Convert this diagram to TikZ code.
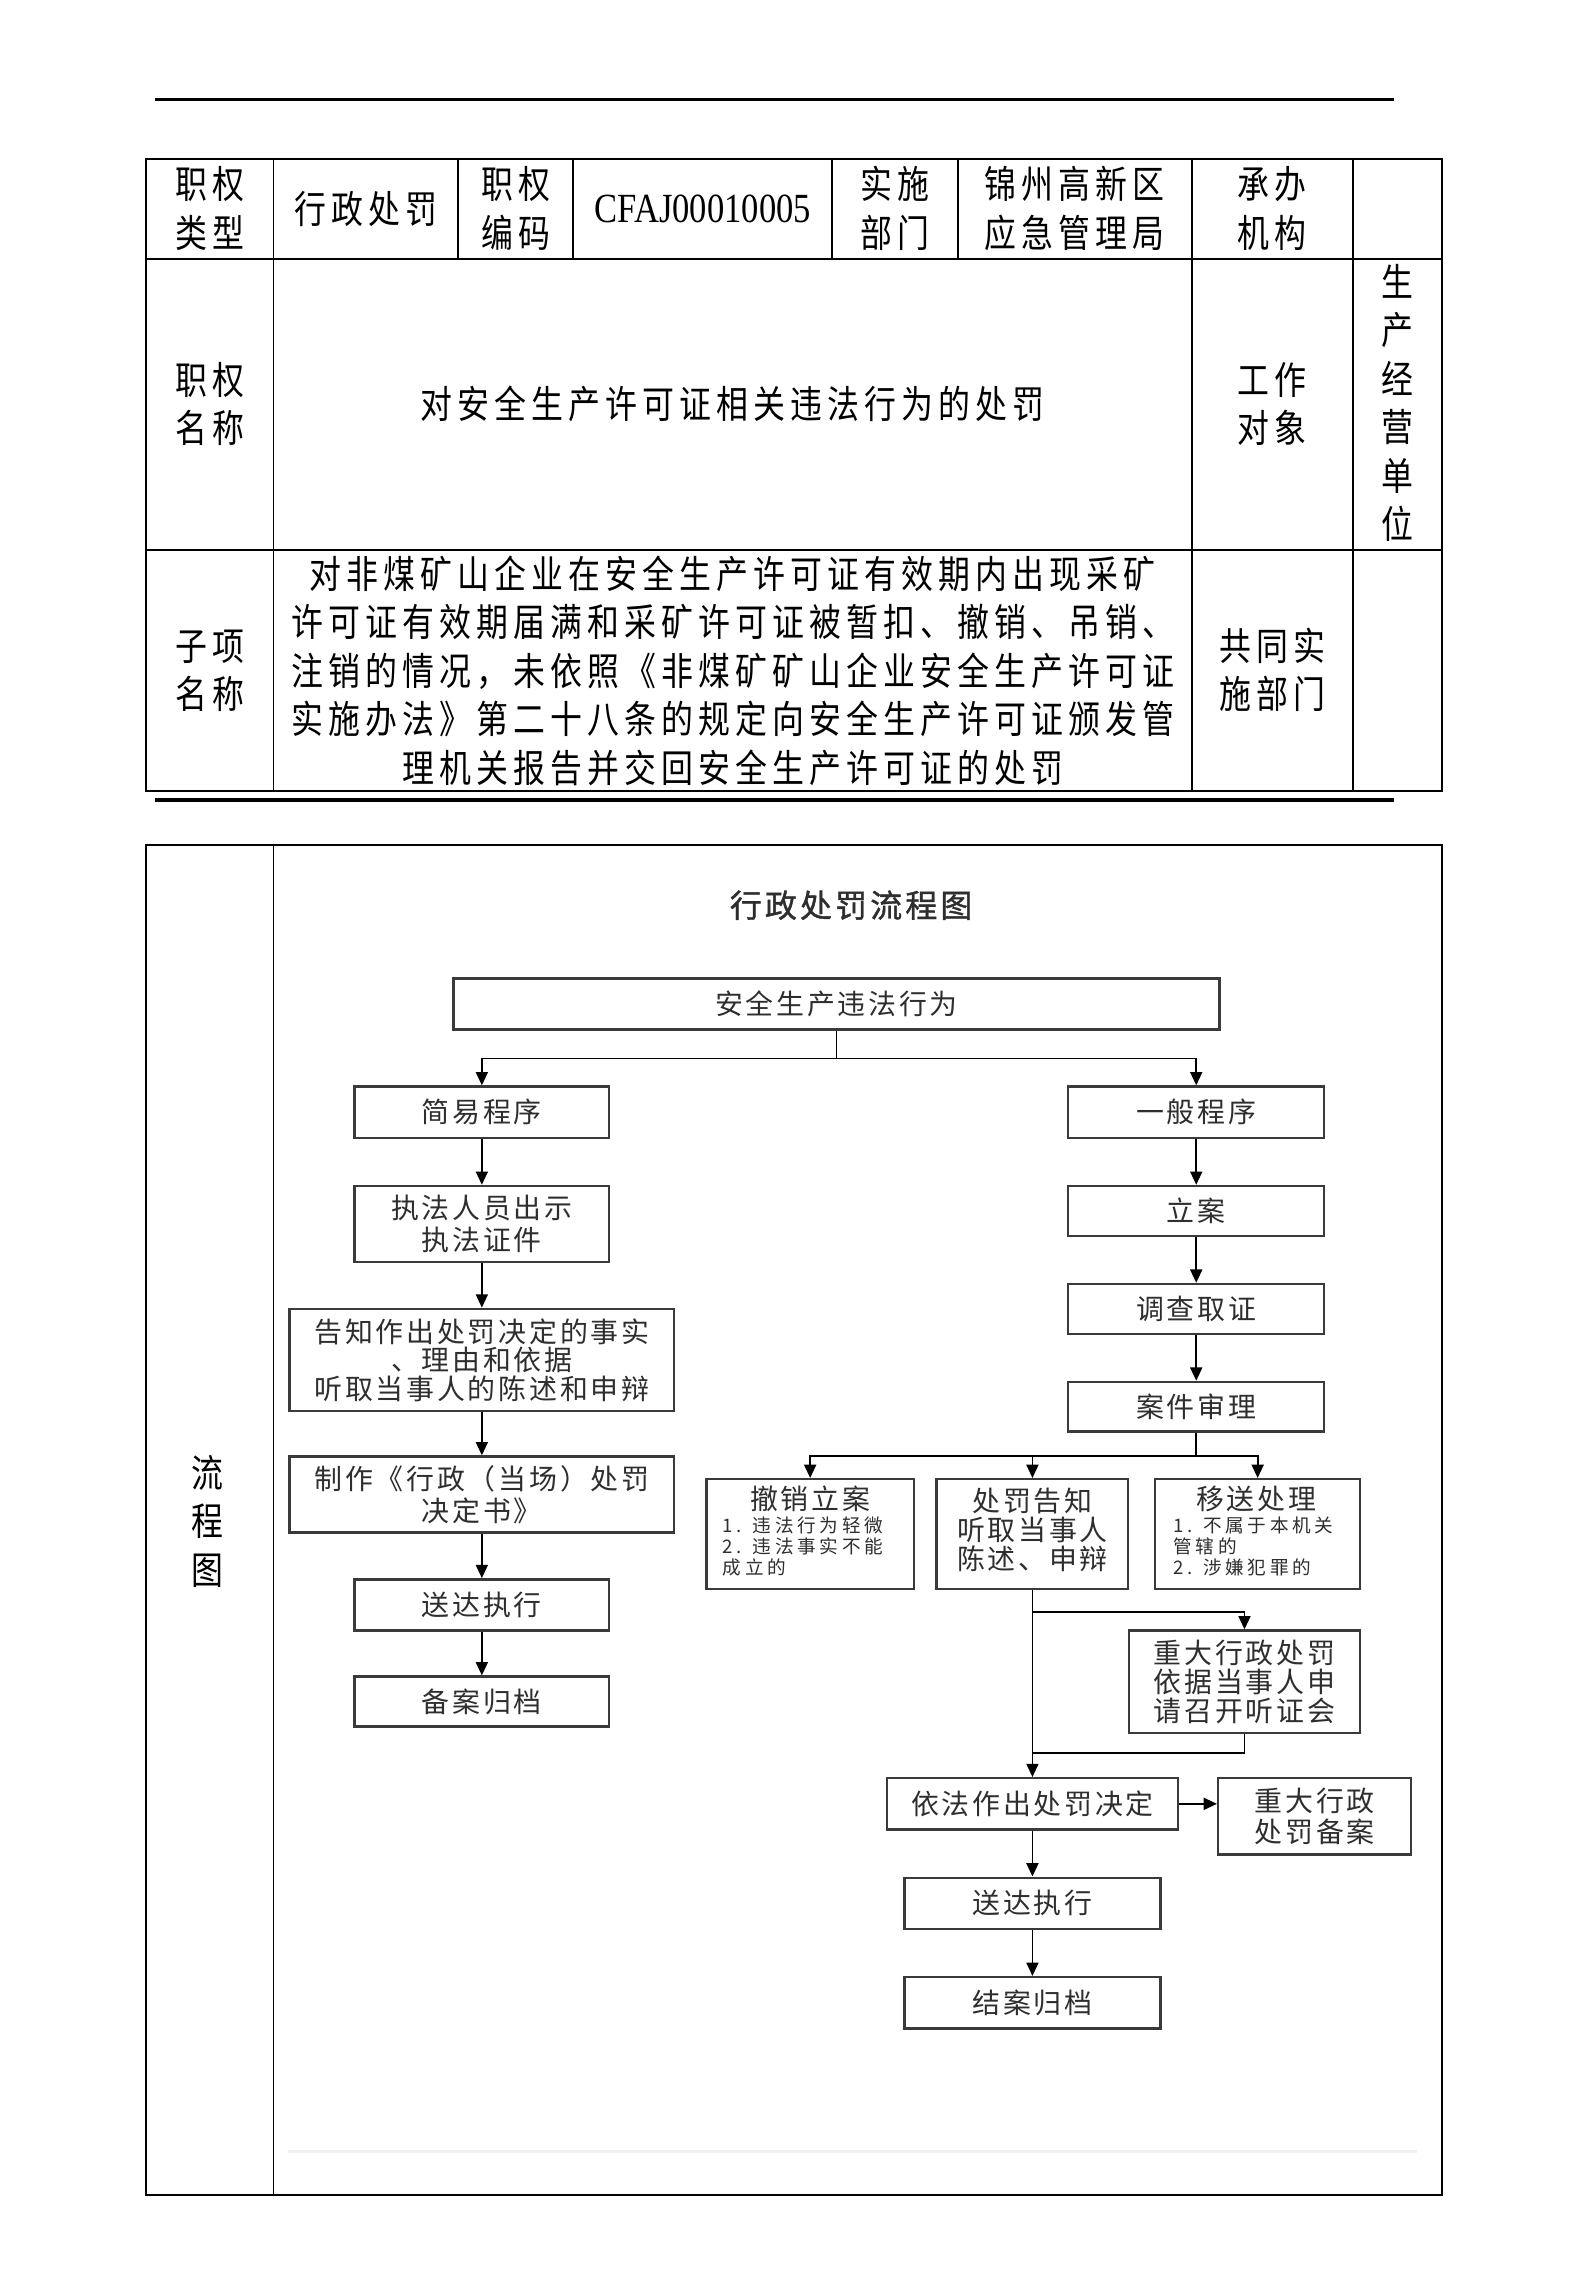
\documentclass[tikz,border=0pt]{standalone}
\usepackage{fontspec}
\usepackage{graphicx}
\setmainfont{Noto Sans CJK SC}
\newfontfamily\tabfont[LetterSpace=16]{Noto Sans CJK SC}
\newfontfamily\boxfont[LetterSpace=10]{Noto Sans CJK SC}
\newfontfamily\notefont[LetterSpace=20]{Noto Sans CJK SC}
\newfontfamily\titlefont[LetterSpace=10,FakeBold=1.2]{Noto Sans CJK SC}
\newfontfamily\codefont{Liberation Serif}
\usetikzlibrary{arrows.meta}
\usetikzlibrary{positioning}
\definecolor{linegray}{HTML}{3A3A3A}
\definecolor{textgray}{HTML}{2E2E2E}
\def\pxu{0.55pt}
\newcommand{\tcell}[1]{\scalebox{1}[1.2]{\tabfont\fontsize{12}{15.2}\selectfont\begin{tabular}{@{}c@{}}#1\end{tabular}}}
\tikzstyle{box} = [rectangle, draw=linegray, line width=0.9pt, inner sep=0pt, text=textgray, align=center, font=\boxfont\fontsize{10.5}{11}\selectfont]
\tikzstyle{boxtext} = [inner sep=0pt, align=center, text=textgray, font=\boxfont\fontsize{10.5}{11}\selectfont]
\tikzstyle{note} = [inner sep=0pt, anchor=west, align=left, text=textgray, font=\notefont\fontsize{7}{8}\selectfont]
\tikzstyle{line} = [draw=black, line width=0.7pt]
\tikzstyle{arr} = [line, -{Triangle[length=5pt,width=4.5pt]}]

\begin{document}
\begin{tikzpicture}[x=0.55pt,y=-0.55pt]
\fill[white] (0,0) rectangle (1085,1568);
\useasboundingbox (0,0) rectangle (1085,1568);

% upper table
\draw[line width=1.4pt] (106,68) -- (953,68);
\draw[line width=0.8pt] (100,109) rectangle (986,541);
\draw[line width=0.6pt] (100,177) -- (986,177) (100,376) -- (986,376);
\foreach \x in {187,815,925} \draw[line width=0.6pt] (\x,109) -- (\x,541);
\foreach \x in {313,392,569,655} \draw[line width=0.6pt] (\x,109) -- (\x,177);
\draw[line width=1.4pt] (106,547) -- (953,547);

\node (lbltype) at (143.5,146) {\tcell{职权\\类型}};
\node (valtype) at (250,146) {\tcell{行政处罚}};
\node (lblcode) at (352.5,146) {\tcell{职权\\编码}};
\node (valcode) at (480.5,143) {\scalebox{1}[1.2]{\codefont\fontsize{13}{15}\selectfont CFAJ00010005}};
\node (lbldept) at (612,146) {\tcell{实施\\部门}};
\node (valdept) at (735,146) {\tcell{锦州高新区\\应急管理局}};
\node (lblorg) at (870,146) {\tcell{承办\\机构}};

\node (lblname) at (143.5,279.5) {\tcell{职权\\名称}};
\node (valname) at (501,279.5) {\tcell{对安全生产许可证相关违法行为的处罚}};
\node (lblobj) at (870,279.5) {\tcell{工作\\对象}};
\node (valobj) at (955.5,279) {\tcell{生\\产\\经\\营\\单\\位}};

\node (lblsub) at (143.5,461.5) {\tcell{子项\\名称}};
\node (valsub) at (501,462) {\tcell{对非煤矿山企业在安全生产许可证有效期内出现采矿\\许可证有效期届满和采矿许可证被暂扣、撤销、吊销、\\注销的情况，未依照《非煤矿矿山企业安全生产许可证\\实施办法》第二十八条的规定向安全生产许可证颁发管\\理机关报告并交回安全生产许可证的处罚}};
\node (lbljoint) at (870,461.5) {\tcell{共同实\\施部门}};

% lower table
\draw[line width=0.8pt] (100,578) rectangle (986,1501);
\draw[line width=0.6pt] (187,578) -- (187,1501);
\draw[gray!12, line width=1pt] (197,1471) -- (969,1471);
\node (lblflow) at (142,1043.5) {\tcell{流\\程\\图}};

% flow chart
\node (title) at (582,619) {\color{textgray}\titlefont\fontsize{12}{13}\selectfont 行政处罚流程图};
\node (top) [box, minimum width=524*\pxu, minimum height=35*\pxu] at (572,686.5) {安全生产违法行为};

\node (simple) [box, minimum width=174*\pxu, minimum height=35*\pxu] at (329.5,760.5) {简易程序};
\node (show) [box, minimum width=174*\pxu, minimum height=52*\pxu, font=\boxfont\fontsize{10.5}{12.1}\selectfont] at (329.5,837) {执法人员出示\\执法证件};
\node (notify) [box, minimum width=263*\pxu, minimum height=70*\pxu, font=\boxfont\fontsize{10.5}{10.7}\selectfont] at (329.5,930) {告知作出处罚决定的事实\\、理由和依据\\听取当事人的陈述和申辩};
\node (make) [box, minimum width=263*\pxu, minimum height=52*\pxu, font=\boxfont\fontsize{10.5}{12.1}\selectfont] at (329.5,1022) {制作《行政（当场）处罚\\决定书》};
\node (deliverL) [box, minimum width=174*\pxu, minimum height=35*\pxu] at (329.5,1097.5) {送达执行};
\node (fileL) [box, minimum width=174*\pxu, minimum height=34*\pxu] at (329.5,1163.5) {备案归档};

\node (general) [box, minimum width=175*\pxu, minimum height=35*\pxu] at (818,760.5) {一般程序};
\node (case) [box, minimum width=175*\pxu, minimum height=34*\pxu] at (818,828) {立案};
\node (probe) [box, minimum width=175*\pxu, minimum height=34*\pxu] at (818,895) {调查取证};
\node (trial) [box, minimum width=175*\pxu, minimum height=34*\pxu] at (818,962) {案件审理};

\node (revoke) [box, minimum width=142*\pxu, minimum height=75*\pxu] at (554,1049) {};
\node (revoketitle) [boxtext] at (554,1025) {撤销立案};
\node (revokenote) [note] at (494,1057.5) {1. 违法行为轻微\\2. 违法事实不能\\成立的};
\node (inform) [box, minimum width=131*\pxu, minimum height=75*\pxu] at (706,1049) {};
\node (informtext) [boxtext] at (706,1046) {处罚告知\\听取当事人\\陈述、申辩};
\node (transfer) [box, minimum width=140*\pxu, minimum height=75*\pxu] at (860,1049) {};
\node (transfertitle) [boxtext] at (859,1025) {移送处理};
\node (transfernote) [note] at (802,1057.5) {1. 不属于本机关\\管辖的\\2. 涉嫌犯罪的};

\node (major) [box, minimum width=158*\pxu, minimum height=70*\pxu] at (851,1150) {重大行政处罚\\依据当事人申\\请召开听证会};
\node (decide) [box, minimum width=199*\pxu, minimum height=35*\pxu] at (706,1233.5) {依法作出处罚决定};
\node (backup) [box, minimum width=132*\pxu, minimum height=52*\pxu, font=\boxfont\fontsize{10.5}{11.5}\selectfont] at (899,1242) {重大行政\\处罚备案};
\node (deliverR) [box, minimum width=175*\pxu, minimum height=35*\pxu] at (706,1301.5) {送达执行};
\node (close) [box, minimum width=175*\pxu, minimum height=35*\pxu] at (706,1369.5) {结案归档};

% connectors
\draw[line] (top.south) -- ++(0,19) coordinate (split1);
\draw[arr] (split1) -| (simple.north);
\draw[arr] (split1) -| (general.north);
\foreach \a/\b in {simple/show, show/notify, notify/make, make/deliverL, deliverL/fileL, general/case, case/probe, probe/trial, inform/decide, decide/deliverR, deliverR/close}
  \draw[arr] (\a) -- (\b);
\draw[line] (trial.south) -- ++(0,16) coordinate (split2);
\foreach \t in {revoke, inform, transfer}
  \draw[arr] (split2) -| (\t.north);
\path (inform.south) ++(0,15) coordinate (split3);
\draw[arr] (split3) -| (major.north);
\coordinate (merge) at (706,1199);
\draw[line] (major.south) |- (merge);
\draw[arr] (decide.east) -- (decide.east -| backup.west);
\end{tikzpicture}
\end{document}
